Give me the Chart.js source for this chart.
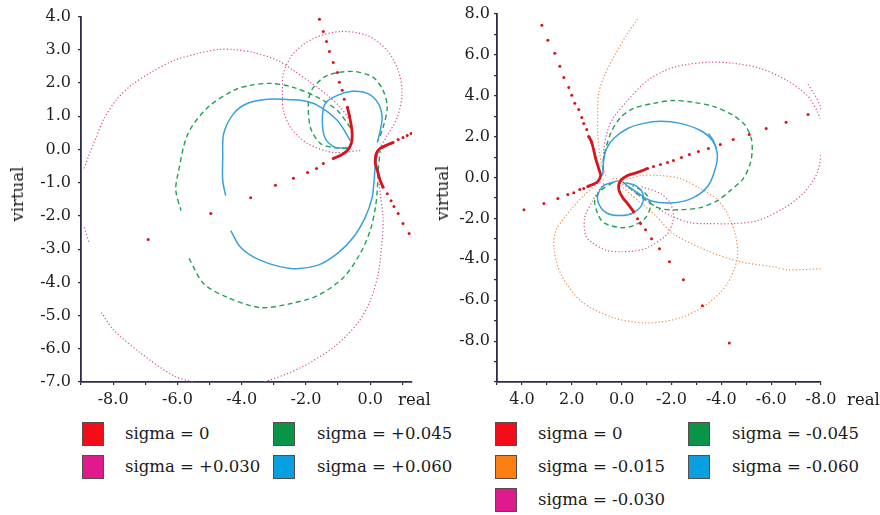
<!DOCTYPE html>
<html><head><meta charset="utf-8">
<script src="https://cdn.jsdelivr.net/npm/chart.js@4.4.0/dist/chart.umd.min.js"></script>
<style>
html,body{margin:0;padding:0;background:#fff;width:880px;height:515px;overflow:hidden;}
.wrap{position:absolute;top:0;width:440px;height:415px;}
.txt{position:absolute;font:16.5px "DejaVu Serif",serif;color:#1a1a1a;white-space:nowrap;line-height:20px;}
.vt{transform:translate(-50%,-50%) rotate(-90deg);}
.sw{position:absolute;width:22px;height:24px;border:1px solid #5b4b4b;box-sizing:border-box;}
.lt{position:absolute;font:16.5px "DejaVu Serif",serif;color:#1a1a1a;white-space:nowrap;line-height:24px;height:24px;}
</style></head>
<body>
<div class="wrap" style="left:0"><canvas id="c1" width="440" height="415"></canvas></div>
<div class="wrap" style="left:440px"><canvas id="c2" width="440" height="415"></canvas></div>
<div class="txt vt" style="left:18px;top:194px">virtual</div>
<div class="txt vt" style="left:443px;top:193px">virtual</div>
<div class="txt" style="left:398px;top:390px">real</div>
<div class="txt" style="left:847px;top:390px">real</div>
<div id="legend"></div>
<script>
// ---------------- tick values / labels ----------------
const LEFT_X_TICKS = [-9,-8,-7,-6,-5,-4,-3,-2,-1,0,1];
const LEFT_X_LABELED = [-8,-6,-4,-2,0];
const LEFT_Y_TICKS = [-7,-6,-5,-4,-3,-2,-1,0,1,2,3,4];
const LEFT_Y_LABELED = [-7,-6,-5,-4,-3,-2,-1,0,1,2,3,4];
const RIGHT_X_TICKS = [-8,-7,-6,-5,-4,-3,-2,-1,0,1,2,3,4,5];
const RIGHT_X_LABELED = [-8,-6,-4,-2,0,2,4];
const RIGHT_Y_TICKS = [-10,-9,-8,-7,-6,-5,-4,-3,-2,-1,0,1,2,3,4,5,6,7,8];
const RIGHT_Y_LABELED = [-8,-6,-4,-2,0,2,4,6,8];

// ---------------- legend ----------------
const LEFT_LABELS = ['sigma = 0','sigma = +0.030','sigma = +0.045','sigma = +0.060'];
const RIGHT_LABELS = ['sigma = 0','sigma = -0.015','sigma = -0.030','sigma = -0.045','sigma = -0.060'];

// ---------------- left chart data (sigma >= 0) ----------------
const L_RED_DOTS = [[-1.58,3.92],[-1.46,3.55],[-1.36,3.25],[-1.27,2.95],[-1.15,2.62],[-1.02,2.32],[-0.96,2.02],[-0.87,1.78],[-0.81,1.51],[-0.71,1.27],[-0.65,1.02],
 [-1.15,-0.27],[-1.46,-0.42],[-1.67,-0.57],[-1.95,-0.69],[-2.39,-0.87],[-2.95,-1.08],[-3.72,-1.45],[-4.96,-1.93],[-6.91,-2.71],
 [1.27,0.48],[1.15,0.42],[1.02,0.36],[0.87,0.30],[0.71,0.21],[0.40,-1.14],[0.53,-1.33],[0.65,-1.54],[0.74,-1.72],[0.87,-1.93],[1.02,-2.23],[1.21,-2.53]];
const L_RED_CORE_A = [[-0.71,1.27],[-0.65,1.02],[-0.59,0.72],[-0.56,0.42],[-0.59,0.18],[-0.71,-0.03],[-0.93,-0.18],[-1.15,-0.27]];
const L_RED_CORE_B = [[0.71,0.21],[0.56,0.15],[0.31,0.03],[0.19,-0.12],[0.16,-0.27],[0.16,-0.42],[0.22,-0.63],[0.31,-0.93],[0.40,-1.14]];
const L_MAG_ARC = [[-8.90,-0.57],[-8.78,-0.24],[-8.53,0.36],[-8.28,0.93],[-7.91,1.48],[-7.44,1.93],[-6.82,2.32],[-6.11,2.68],[-5.36,2.89],[-4.74,3.01],[-4.25,3.01],[-3.63,2.92],[-2.88,2.68],[-2.39,2.38],[-1.86,2.02],[-1.33,1.63],[-0.93,1.27],[-0.62,0.87]];
const L_MAG_STUB = [[-8.90,-2.35],[-8.74,-2.83]];
const L_MAG_LOOP = [[-0.31,-0.03],[-1.15,-0.09],[-1.95,0.18],[-2.48,0.66],[-2.70,1.17],[-2.73,1.57],[-2.70,2.29],[-2.39,2.89],[-1.77,3.34],[-0.93,3.55],[-0.09,3.43],[0.53,2.98],[0.87,2.38],[0.99,1.69],[0.84,0.96],[0.53,0.42],[0.25,-0.03]];
const L_MAG_LOW = [[-8.37,-4.91],[-7.97,-5.45],[-7.13,-6.14],[-6.11,-6.81],[-5.27,-7.05],[-4.19,-7.20],[-3.19,-6.96],[-2.17,-6.57],[-1.15,-5.96],[-0.40,-5.24],[0.00,-4.55],[0.25,-3.73],[0.37,-2.74],[0.40,-2.05],[0.31,-1.33],[0.25,-0.63]];
const L_GRN_UP = [[-0.62,0.66],[-1.02,1.17],[-1.64,1.57],[-2.39,1.87],[-3.10,1.99],[-3.72,1.93],[-4.25,1.78],[-5.05,1.27],[-5.67,0.48],[-5.98,-0.72],[-6.05,-1.23],[-5.89,-1.84]];
const L_GRN_LOW = [[-5.64,-3.28],[-5.18,-4.04],[-4.43,-4.46],[-3.41,-4.76],[-2.48,-4.64],[-1.64,-4.40],[-0.84,-3.86],[-0.31,-3.13],[0.00,-2.44],[0.16,-1.75],[0.22,-1.23],[0.25,-0.63],[0.31,-0.03]];
const L_GRN_LOOP = [[-0.71,0.03],[-1.15,0.06],[-1.55,0.18],[-1.86,0.66],[-1.92,1.48],[-1.77,1.87],[-1.33,2.23],[-0.53,2.35],[0.09,2.17],[0.40,1.78],[0.53,1.27],[0.40,0.66],[0.25,0.27]];
const L_BLU_UP = [[-0.62,0.27],[-1.02,0.87],[-1.64,1.33],[-2.17,1.48],[-2.70,1.51],[-3.19,1.51],[-3.81,1.39],[-4.25,1.08],[-4.56,0.48],[-4.59,-0.24],[-4.59,-0.93],[-4.50,-1.39]];
const L_BLU_LOW = [[-4.34,-2.44],[-4.03,-2.95],[-3.41,-3.34],[-2.48,-3.58],[-1.64,-3.49],[-1.02,-3.13],[-0.53,-2.65],[-0.16,-2.05],[0.06,-1.45],[0.12,-0.93],[0.16,-0.48],[0.25,-0.03]];
const L_BLU_LOOP = [[-0.68,0.06],[-1.09,0.06],[-1.40,0.33],[-1.49,0.87],[-1.40,1.39],[-1.02,1.63],[-0.56,1.75],[-0.09,1.69],[0.25,1.39],[0.37,0.96],[0.31,0.57],[0.22,0.21]];

// ---------------- right chart data (sigma <= 0) ----------------
const R_RED_DOTS = [[3.20,7.45],[2.96,6.72],[2.68,6.08],[2.48,5.44],[2.32,4.90],[2.12,4.41],[2.00,4.02],[1.88,3.63],[1.72,3.33],[1.60,2.94],[1.52,2.65],[1.40,2.35],[1.32,2.01],[1.20,1.72],
 [1.36,-0.44],[1.52,-0.54],[1.68,-0.59],[1.92,-0.74],[2.16,-0.83],[2.56,-1.03],[3.12,-1.27],[3.92,-1.57],
 [-7.48,3.09],[-6.60,2.70],[-5.80,2.40],[-5.12,2.11],[-4.48,1.86],[-3.96,1.62],[-3.48,1.42],[-3.08,1.27],[-2.72,1.13],[-2.40,0.98],[-2.08,0.83],[-1.84,0.74],[-1.56,0.64],[-1.28,0.54],[-1.04,0.44],
 [-0.48,-1.67],[-0.64,-2.01],[-0.76,-2.25],[-0.96,-2.55],[-1.20,-2.99],[-1.52,-3.48],[-1.92,-4.12],[-2.48,-5.00],[-3.24,-6.27],[-4.32,-8.09]];
const R_RED_CORE_A = [[1.32,2.01],[1.20,1.72],[1.04,0.93],[0.92,0.44],[0.84,0.10],[0.96,-0.20],[1.16,-0.34],[1.36,-0.44]];
const R_RED_CORE_B = [[-1.04,0.44],[-0.64,0.25],[-0.24,0.10],[0.04,-0.15],[0.12,-0.54],[-0.04,-0.98],[-0.24,-1.27],[-0.48,-1.67]];
const R_ORG_TOP = [[-0.64,7.75],[-0.24,7.06],[0.32,5.88],[0.72,4.90],[0.92,4.12],[0.96,3.14],[0.96,2.16],[0.88,1.18],[0.76,0.49],[0.64,0.10]];
const R_ORG_LOOP = [[0.36,-0.05],[-0.28,-0.05],[-0.76,0.10],[-1.56,0.10],[-2.36,-0.05],[-3.16,-0.54],[-3.84,-1.08],[-4.24,-1.76],[-4.56,-2.75],[-4.64,-3.92],[-4.24,-5.20],[-3.44,-6.18],[-2.36,-6.86],[-1.04,-7.11],[0.32,-6.86],[1.64,-6.03],[2.44,-4.71],[2.72,-3.43],[2.64,-2.60],[2.32,-2.01],[1.96,-1.47],[1.52,-0.88],[0.96,-0.29],[0.64,-0.05]];
const R_ORG_TAIL = [[0.04,-0.39],[-0.76,-1.23],[-1.36,-1.86],[-2.08,-2.75],[-3.44,-3.58],[-4.76,-4.12],[-6.08,-4.36],[-6.68,-4.51],[-8.04,-4.46]];
const R_MAG_UP = [[0.72,0.34],[0.72,1.32],[0.56,2.30],[0.32,2.94],[-0.24,3.77],[-1.04,4.75],[-2.08,5.39],[-3.44,5.64],[-4.48,5.59],[-5.56,5.34],[-6.64,4.75],[-7.44,4.02],[-7.84,3.28],[-7.96,2.89]];
const R_MAG_STUB = [[-7.48,4.56],[-7.76,4.02],[-7.96,3.53],[-8.04,3.14]];
const R_MAG_MID = [[-8.04,1.42],[-7.84,0.20],[-7.28,-0.78],[-6.48,-1.52],[-5.44,-2.11],[-4.48,-2.25],[-3.44,-2.25],[-2.76,-2.21],[-1.96,-1.86],[-1.16,-1.27],[-0.44,-0.64],[0.04,-0.25]];
const R_MAG_LOOP = [[0.72,-0.29],[1.16,-1.13],[1.48,-1.96],[1.44,-2.84],[1.12,-3.24],[0.56,-3.58],[0.04,-3.63],[-0.56,-3.58],[-1.04,-3.43],[-1.84,-2.75],[-2.08,-1.96],[-1.96,-1.27],[-1.56,-0.78],[-0.76,-0.44]];
const R_GRN_BIG = [[0.76,0.34],[0.72,0.98],[0.44,2.16],[0.04,2.94],[-0.48,3.38],[-1.28,3.63],[-2.08,3.77],[-2.88,3.68],[-3.68,3.48],[-4.48,3.04],[-4.96,2.55],[-5.20,1.91],[-5.24,1.32],[-5.16,0.69],[-4.88,-0.05],[-4.36,-0.64],[-3.84,-1.13],[-3.16,-1.47],[-2.36,-1.57],[-1.56,-1.52],[-0.88,-1.03],[-0.36,-0.54],[-0.04,-0.20]];
const R_GRN_LOOP = [[0.36,-0.25],[0.84,-0.64],[1.08,-1.13],[0.96,-1.76],[0.72,-2.21],[0.04,-2.45],[-0.48,-2.35],[-0.96,-1.96],[-1.16,-1.37],[-0.96,-0.78],[-0.44,-0.39]];
const R_BLU_BIG = [[0.76,0.10],[0.72,0.83],[0.60,1.42],[0.32,1.91],[-0.24,2.40],[-0.88,2.65],[-1.56,2.75],[-2.36,2.65],[-3.16,2.30],[-3.64,1.81],[-3.84,1.13],[-3.76,0.44],[-3.48,-0.39],[-2.88,-0.98],[-2.08,-1.23],[-1.16,-1.13],[-0.64,-0.74],[-0.16,-0.34]];
const R_BLU_STUB = [[-3.48,2.16],[-3.68,1.81],[-3.80,1.42]];
const R_BLU_LOOP = [[0.12,-0.15],[0.72,-0.39],[0.96,-0.88],[0.88,-1.37],[0.56,-1.76],[0.04,-1.86],[-0.48,-1.72],[-0.84,-1.27],[-0.84,-0.74],[-0.56,-0.39],[-0.16,-0.25]];

// ---------------- styles ----------------
const COL = {red:'#d8141c', mag:'#d24a9c', grn:'#23a053', blu:'#3aa0da', org:'#ee8a40'};
const SWATCH = {red:'#f20d18', mag:'#df1a8c', grn:'#0a9447', blu:'#08a0e0', org:'#fb7f12'};
const AXIS = '#2c2c48';
const FONT = {family:'"DejaVu Serif", serif', size:16};

function pts(a){return a.map(p=>({x:p[0],y:p[1]}));}
function curve(a,color,dash,w){return {data:pts(a),showLine:true,borderColor:color,borderWidth:w,borderDash:dash,pointRadius:0,tension:0.3,fill:false};}
function dots(a,color,r){return {data:pts(a),showLine:false,pointRadius:r,pointBackgroundColor:color,pointBorderWidth:0,borderWidth:0};}
const MAG=(a)=>curve(a,COL.mag,[1.2,2.2],1.2);
const GRN=(a)=>curve(a,COL.grn,[5,3.5],1.4);
const BLU=(a)=>curve(a,COL.blu,[],1.5);
const ORG=(a)=>curve(a,COL.org,[1.2,2.2],1.2);
const REDC=(a)=>curve(a,COL.red,[],2.8);

function scale(ticks,labeled,min,max,rev,isY,size,tl,pad){
  return {type:'linear',min:min,max:max,reverse:rev,
    afterBuildTicks:(s)=>{s.ticks=ticks.map(v=>({value:v}));},
    afterFit:(s)=>{ if(isY) s.width=size; else s.height=size; },
    ticks:{autoSkip:false,maxRotation:0,minRotation:0,font:FONT,color:'#1e1e1e',padding:pad,
      callback:(v)=>labeled.includes(v)?Number(v).toFixed(1):''},
    grid:{display:true,drawOnChartArea:false,drawTicks:true,tickLength:tl,color:AXIS,lineWidth:1.2},
    border:{display:true,color:AXIS,width:1.8}};
}
function opts(xs,ys,pad){
  return {responsive:false,animation:false,devicePixelRatio:1,
    layout:{padding:pad},
    plugins:{legend:{display:false},tooltip:{enabled:false}},
    events:[],
    scales:{x:xs,y:ys}};
}

new Chart(document.getElementById('c1'),{type:'scatter',
  data:{datasets:[dots(L_RED_DOTS,COL.red,1.5),REDC(L_RED_CORE_A),REDC(L_RED_CORE_B),
    BLU(L_BLU_UP),BLU(L_BLU_LOW),BLU(L_BLU_LOOP),
    GRN(L_GRN_UP),GRN(L_GRN_LOW),GRN(L_GRN_LOOP),
    MAG(L_MAG_ARC),MAG(L_MAG_STUB),MAG(L_MAG_LOOP),MAG(L_MAG_LOW)]},
  options:opts(scale(LEFT_X_TICKS,LEFT_X_LABELED,-9,1.3,false,false,33,3,5),
               scale(LEFT_Y_TICKS,LEFT_Y_LABELED,-7,4,false,true,81,3,7),
               {top:16,right:28,left:0,bottom:0})});

new Chart(document.getElementById('c2'),{type:'scatter',
  data:{datasets:[dots(R_RED_DOTS,COL.red,1.5),REDC(R_RED_CORE_A),REDC(R_RED_CORE_B),
    BLU(R_BLU_BIG),BLU(R_BLU_STUB),BLU(R_BLU_LOOP),
    GRN(R_GRN_BIG),GRN(R_GRN_LOOP),
    MAG(R_MAG_UP),MAG(R_MAG_STUB),MAG(R_MAG_MID),MAG(R_MAG_LOOP),
    ORG(R_ORG_TOP),ORG(R_ORG_LOOP),ORG(R_ORG_TAIL)]},
  options:opts(scale(RIGHT_X_TICKS,RIGHT_X_LABELED,-8,5,true,false,33,3,5),
               scale(RIGHT_Y_TICKS,RIGHT_Y_LABELED,-10,8,false,true,57,3,4),
               {top:14,right:59,left:0,bottom:0})});

// ---------------- HTML legends (column-major) ----------------
const LEFT_SW = ['red','mag','grn','blu'];
const RIGHT_SW = ['red','org','mag','grn','blu'];
function legend(labels,sw,rowsPerCol,boxX,textX){
  const rows=[422,455,488];
  let h='';
  labels.forEach((t,i)=>{
    const c=Math.floor(i/rowsPerCol), r=i%rowsPerCol;
    h+=`<div class="sw" style="left:${boxX[c]}px;top:${rows[r]}px;background:${SWATCH[sw[i]]}"></div>`;
    h+=`<div class="lt" style="left:${textX[c]}px;top:${rows[r]}px">${t}</div>`;
  });
  return h;
}
document.getElementById('legend').innerHTML =
  legend(LEFT_LABELS,LEFT_SW,2,[82,273],[125,317]) +
  legend(RIGHT_LABELS,RIGHT_SW,3,[495,688],[538,732]);
</script>
</body></html>
